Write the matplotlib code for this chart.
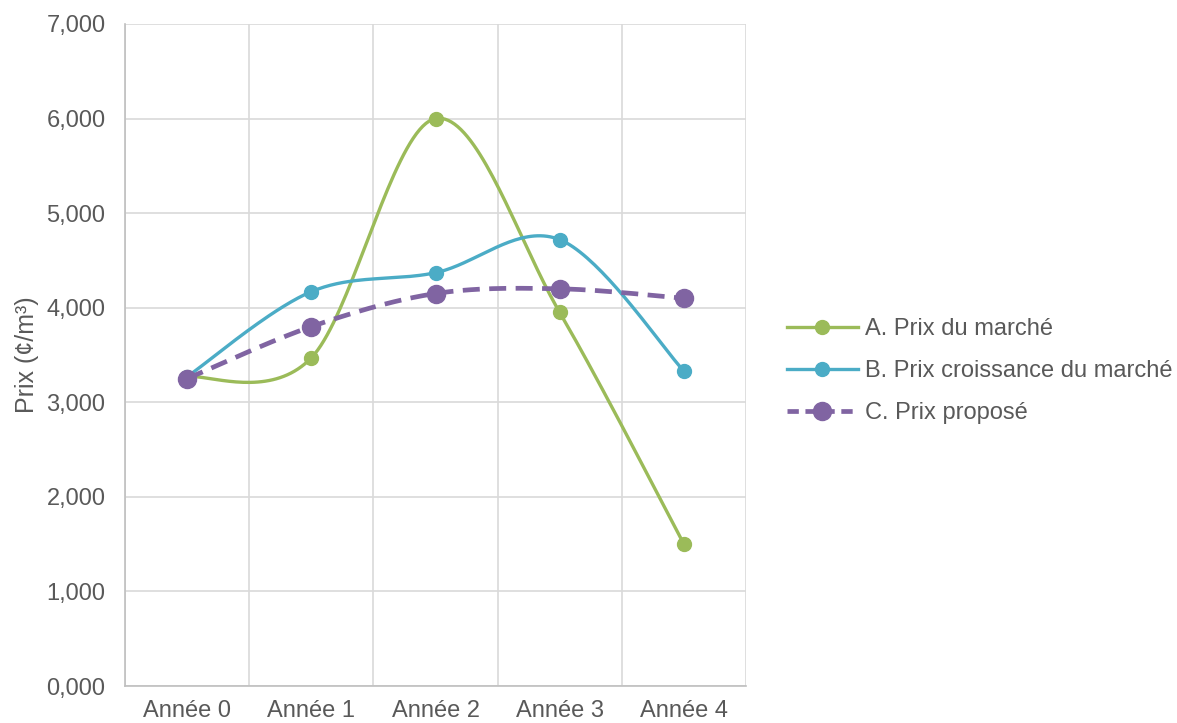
import matplotlib
matplotlib.use("Agg")
import matplotlib.pyplot as plt
import numpy as np
from matplotlib.ticker import FuncFormatter, FixedLocator

plt.rcParams['font.family'] = ['Liberation Sans', 'DejaVu Sans']

categories = ['Année 0', 'Année 1', 'Année 2', 'Année 3', 'Année 4']
prix_marche = [3270, 3470, 6000, 3950, 1500]
prix_croissance = [3270, 4170, 4370, 4720, 3330]
prix_propose = [3250, 3800, 4150, 4200, 4100]

labels = ['A. Prix du marché', 'B. Prix croissance du marché', 'C. Prix proposé']
colors = ['#9BBB59', '#4BACC6', '#8064A2']
text_col = '#595959'
fs = 17


def smooth(xs, ys, n=40):
    # Excel-like smoothed line: cubic bezier with catmull-rom style control points
    p = np.column_stack([xs, ys]).astype(float)
    pts = []
    for i in range(len(p) - 1):
        p0 = p[i - 1] if i > 0 else p[i]
        p1, p2 = p[i], p[i + 1]
        p3 = p[i + 2] if i + 2 < len(p) else p[i + 1]
        c1 = p1 + (p2 - p0) / 6
        c2 = p2 - (p3 - p1) / 6
        t = np.linspace(0, 1, n)[:, None]
        seg = ((1 - t) ** 3) * p1 + 3 * ((1 - t) ** 2) * t * c1 + 3 * (1 - t) * t ** 2 * c2 + t ** 3 * p2
        pts.append(seg if i == 0 else seg[1:])
    pts = np.vstack(pts)
    return pts[:, 0], pts[:, 1]


fig = plt.figure(figsize=(11.77, 7.23), dpi=100)
ax = fig.add_axes([125 / 1177, 37 / 723, 621 / 1177, 662 / 723])

x = np.arange(len(categories))
series = [prix_marche, prix_croissance, prix_propose]
handles = []
for i, (vals, lab, c) in enumerate(zip(series, labels, colors)):
    sx, sy = smooth(x, vals)
    if i == 2:
        ax.plot(sx, sy, color=c, lw=3.4, dashes=(3.6, 2.0), zorder=3 + i)
        ax.plot(x, vals, color=c, marker='o', markersize=13, linestyle='none', zorder=3 + i)
        h = plt.Line2D([], [], color=c, lw=3.4, dashes=(2.4, 1.4), marker='o', markersize=13)
    else:
        ax.plot(sx, sy, color=c, lw=2.4, zorder=3 + i)
        ax.plot(x, vals, color=c, marker='o', markersize=10, linestyle='none', zorder=3 + i)
        h = plt.Line2D([], [], color=c, lw=2.4, marker='o', markersize=10)
    handles.append(h)

ax.set_xlim(-0.5, 4.5)
ax.set_ylim(0, 7000)
ax.set_xticks(x)
ax.set_xticklabels(categories)
ax.xaxis.set_minor_locator(FixedLocator(np.arange(-0.5, 5, 1)))
ax.set_yticks(np.arange(0, 7001, 1000))
ax.yaxis.set_major_formatter(FuncFormatter(lambda v, p: f"{int(v // 1000)},000"))

ax.grid(True, axis='y', which='major', color='#D9D9D9', lw=1.2)
ax.grid(True, axis='x', which='minor', color='#D9D9D9', lw=1.2)
ax.tick_params(axis='both', which='both', length=0, labelsize=fs, colors=text_col)
ax.tick_params(axis='y', pad=14)
ax.tick_params(axis='x', pad=10)
for s in ['top', 'right']:
    ax.spines[s].set_visible(False)
for s in ['left', 'bottom']:
    ax.spines[s].set_color('#BFBFBF')
    ax.spines[s].set_linewidth(1.2)
ax.set_axisbelow(True)

ax.set_ylabel('Prix (¢/m³)', fontsize=18, color=text_col, labelpad=5)

fig.legend(handles, labels, loc='center left', bbox_to_anchor=(787 / 1177, 352 / 723),
           frameon=False, fontsize=fs, handlelength=3.0, handletextpad=0.3,
           labelspacing=0.85, borderpad=0, borderaxespad=0, labelcolor=text_col)

fig.savefig('out.png', dpi=100)
